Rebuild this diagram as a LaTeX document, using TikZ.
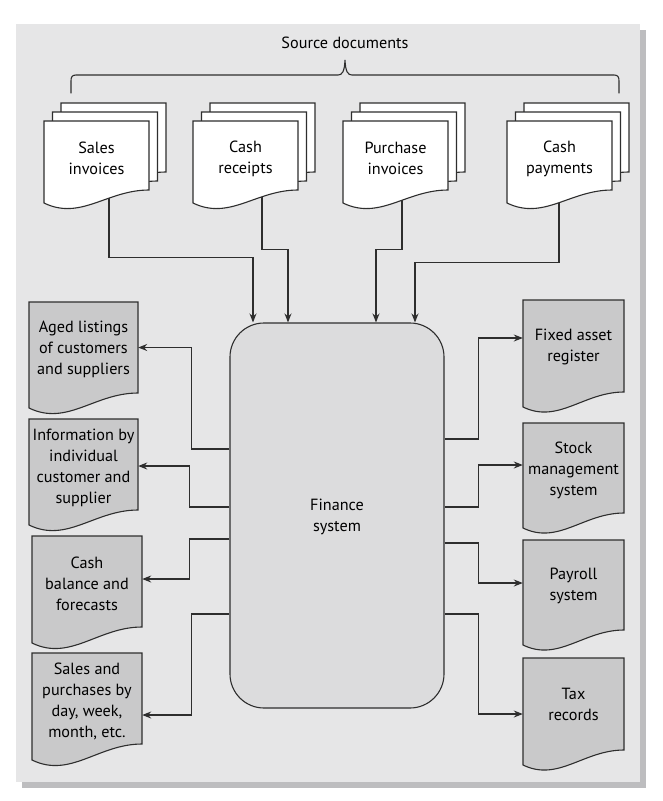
\documentclass[tikz,border=0pt]{standalone}
\usepackage{fontspec}
\setmainfont{PT Sans}
\usetikzlibrary{arrows.meta}
\pgfdeclarelayer{bg}
\pgfdeclarelayer{lines}
\pgfsetlayers{bg,lines,main}
\definecolor{panelc}{HTML}{E6E6E7}
\definecolor{shadowc}{HTML}{BDBDBF}
\definecolor{docgray}{HTML}{C9C9CA}
\definecolor{fincol}{HTML}{DCDCDD}
\definecolor{inkc}{HTML}{2E2E2E}
\tikzset{
  docline/.style={draw=inkc, line width=1.1pt, line join=miter},
  doctext/.style={inner sep=0pt, align=center, text=black, font=\fontsize{16.2}{21}\selectfont},
  conn/.style={draw=inkc, line width=1.1pt},
  arr/.style={conn, -{Stealth[length=9pt,width=7pt,inset=3pt]}},
}
\newcommand\wavedoc[6]{%
  \filldraw[docline, fill=#6] (#1,#2) -- ++(#3,0) -- ++(0,#4)
    .. controls +({-0.4*#3},0) and +({0.35*#3},{0.17*#3}) .. ({#1},{#2+#4+#5}) -- cycle;}
% #1 name, #2 L, #3 T, #4 W, #5 H, #6 D, #7 fill, #8 text shift down, #9 text
\newcommand\docnode[9]{%
  \wavedoc{#2}{#3}{#4}{#5}{#6}{#7}
  \node[inner sep=0pt, minimum width=#4pt, minimum height=#5pt,
        label={[doctext, yshift=-#8pt]center:{#9}}] (#1) at ({#2+#4/2},{#3+#5/2}) {};}
\begin{document}
\begin{tikzpicture}[x=1pt,y=-1pt]
\useasboundingbox (0,0) rectangle (662,801);
\begin{pgfonlayer}{bg}
  \fill[shadowc] (22,30) rectangle (646,788);
  \fill[panelc] (16,24) rectangle (640,782);
\end{pgfonlayer}

% heading and brace
\node[doctext] (src) at (345,43) {Source documents};
\draw[conn, line cap=round] (71,93) -- (71,81) .. controls (71,77) and (72,75) .. (76,75) -- (338,75)
  .. controls (342,75) and (344.5,72) .. (345,60)
  .. controls (345.5,72) and (348,75) .. (352,75) -- (614,75)
  .. controls (618,75) and (619,77) .. (619,81) -- (619,93);

% source documents (back pages then front)
\wavedoc{61}{103}{105}{69}{13}{white}
\wavedoc{52.5}{112}{105}{69}{13}{white}
\docnode{sales}{44}{121}{105}{69}{13}{white}{3}{Sales\\invoices}
\wavedoc{210}{103}{105}{69}{13}{white}
\wavedoc{201.5}{112}{105}{69}{13}{white}
\docnode{receipts}{193}{121}{105}{69}{13}{white}{3}{Cash\\receipts}
\wavedoc{360}{103}{105}{69}{13}{white}
\wavedoc{351.5}{112}{105}{69}{13}{white}
\docnode{purchase}{343}{121}{105}{69}{13}{white}{3}{Purchase\\invoices}
\wavedoc{524}{103}{105}{69}{13}{white}
\wavedoc{515.5}{112}{105}{69}{13}{white}
\docnode{payments}{507}{121}{105}{69}{13}{white}{3}{Cash\\payments}

% finance system
\node[docline, fill=fincol, rounded corners=34pt, minimum width=214pt, minimum height=385pt,
      inner sep=0pt, label={[doctext, yshift=-1pt]center:{Finance\\system}}] (fin) at (337,515.5) {};

% left outputs
\docnode{aged}{29}{302}{109}{91}{15}{docgray}{2}{Aged listings\\of customers\\and suppliers}
\docnode{info}{29}{419}{109}{91}{15}{docgray}{3}{Information by\\individual\\customer and\\supplier}
\docnode{cashbal}{32}{536}{110}{91}{16}{docgray}{2}{Cash\\balance and\\forecasts}
\docnode{salespur}{32}{653}{110}{91}{16}{docgray}{3}{Sales and\\purchases by\\day, week,\\month, etc.}

% right outputs
\docnode{fixed}{523}{300}{101}{92}{15}{docgray}{1}{Fixed asset\\register}
\docnode{stock}{523}{423}{101}{90}{15}{docgray}{2}{Stock\\management\\system}
\docnode{payroll}{523}{540}{101}{90}{15}{docgray}{1}{Payroll\\system}
\docnode{tax}{523}{658}{101}{92}{15}{docgray}{0}{Tax\\records}

\begin{pgfonlayer}{lines}
  % inputs
  \draw[arr] ([xshift=12.5pt]sales.south) -- ++(0,67) -| ([xshift=-84pt]fin.north);
  \draw[arr] ([xshift=16.5pt]receipts.south) -- ++(0,59) -| ([xshift=-49pt]fin.north);
  \draw[arr] ([xshift=6.5pt]purchase.south) -- ++(0,59) -| ([xshift=39pt]fin.north);
  \draw[arr] ([xshift=-0.5pt]payments.south) -- ++(0,72) -| ([xshift=78pt]fin.north);
  % left outputs
  \draw[arr] ([yshift=66.5pt]fin.west) -- ++(-38,0) |- (aged.east);
  \draw[arr] ([yshift=8.5pt]fin.west) -- ++(-40,0) |- ([yshift=-1.5pt]info.east);
  \draw[arr] ([yshift=-23.5pt]fin.west) -- ++(-40,0) |- ([yshift=2.5pt]cashbal.east);
  \draw[arr] ([yshift=-98.5pt]fin.west) -- ++(-38,0) |- ([yshift=-16.5pt]salespur.east);
  % right outputs
  \draw[arr] ([yshift=76.5pt]fin.east) -- ++(34,0) |- ([yshift=8pt]fixed.west);
  \draw[arr] ([yshift=8.5pt]fin.east) -- ++(34,0) |- ([yshift=3pt]stock.west);
  \draw[arr] ([yshift=-27.5pt]fin.east) -- ++(34,0) |- ([yshift=2pt]payroll.west);
  \draw[arr] ([yshift=-98.5pt]fin.east) -- ++(34,0) |- ([yshift=-10pt]tax.west);
\end{pgfonlayer}
\end{tikzpicture}
\end{document}
